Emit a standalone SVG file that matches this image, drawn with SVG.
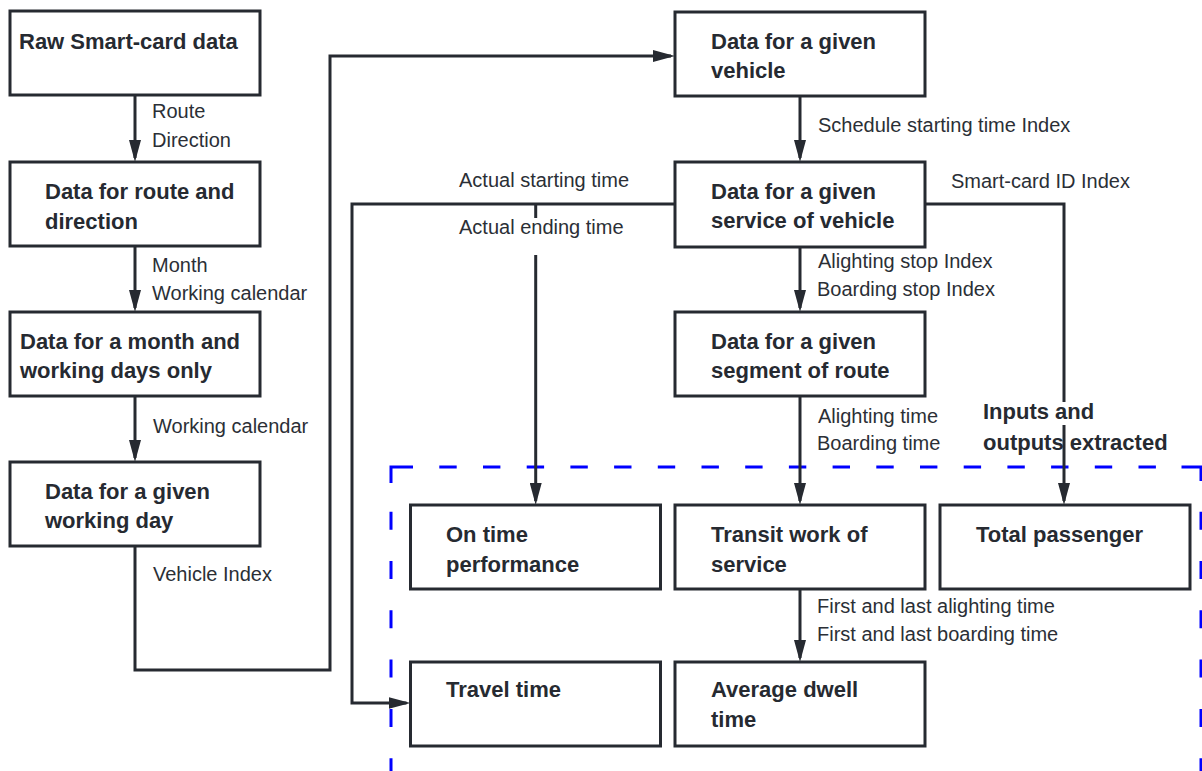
<svg xmlns="http://www.w3.org/2000/svg" width="1202" height="771" viewBox="0 0 1202 771">
<style>
.box{fill:#fff;stroke:#262a31;stroke-width:3}
.bt{font-family:"Liberation Sans",Arial,sans-serif;font-weight:bold;font-size:22px;fill:#262a31}
.lb{font-family:"Liberation Sans",Arial,sans-serif;font-size:20px;fill:#2b2f36}
.cn{fill:none;stroke:#262a31;stroke-width:3}
.ar{marker-end:url(#ah)}
.dash{fill:none;stroke:#0000ff;stroke-width:3}
</style>
<defs>
<marker id="ah" markerUnits="userSpaceOnUse" markerWidth="22" markerHeight="12" refX="18" refY="6" orient="auto">
<path d="M0,0 L22,6 L0,12 z" fill="#262a31"/>
</marker>
</defs>
<rect width="1202" height="771" fill="#fff"/>

<g id="frame">
<path class="dash" d="M391,483 V467 H413"/>
<line class="dash" x1="439.3" y1="467" x2="1181" y2="467" stroke-dasharray="17.4 26.3"/>
<path class="dash" d="M1181.5,467 H1201 V481"/>
<line class="dash" x1="391" y1="511.7" x2="391" y2="771" stroke-dasharray="18 31.3"/>
<line class="dash" x1="1201" y1="511.7" x2="1201" y2="771" stroke-dasharray="18 31.3"/>
<text class="bt" x="983" y="419">Inputs and</text>
<text class="bt" x="983" y="450">outputs extracted</text>
</g>

<g id="connectors">
<path class="cn ar" d="M135,95 V158"/>
<path class="cn ar" d="M135,246 V308"/>
<path class="cn ar" d="M135,396 V458"/>
<path class="cn ar" d="M135,546 V670 H330 V56 H671"/>
<path class="cn ar" d="M800,96 V158"/>
<path class="cn ar" d="M800,247 V308"/>
<path class="cn ar" d="M800,396 V501"/>
<path class="cn ar" d="M800,589 V658"/>
<path class="cn ar" d="M675,204 H352 V703 H406.5"/>
<path class="cn" d="M535.7,204 V218"/>
<path class="cn ar" d="M535.7,255 V501"/>
<path class="cn" d="M925,204 H1064 V402"/>
<path class="cn ar" d="M1064,425 V501"/>
<text class="lb" x="152" y="118">Route</text>
<text class="lb" x="152" y="147">Direction</text>
<text class="lb" x="152" y="272">Month</text>
<text class="lb" x="152" y="300">Working calendar</text>
<text class="lb" x="153" y="433">Working calendar</text>
<text class="lb" x="153" y="581">Vehicle Index</text>
<text class="lb" x="818" y="132">Schedule starting time Index</text>
<text class="lb" x="459" y="187">Actual starting time</text>
<text class="lb" x="459" y="234">Actual ending time</text>
<text class="lb" x="951" y="188">Smart-card ID Index</text>
<text class="lb" x="818" y="268">Alighting stop Index</text>
<text class="lb" x="817" y="296">Boarding stop Index</text>
<text class="lb" x="818" y="423">Alighting time</text>
<text class="lb" x="817" y="450">Boarding time</text>
<text class="lb" x="817" y="613">First and last alighting time</text>
<text class="lb" x="817" y="641">First and last boarding time</text>
</g>

<g id="n-raw"><rect class="box" x="10" y="11" width="250" height="84"/><text class="bt" x="19" y="49">Raw Smart-card data</text></g>
<g id="n-route"><rect class="box" x="10" y="162" width="250" height="84"/><text class="bt" y="199"><tspan x="45">Data for route and</tspan><tspan x="45" y="229">direction</tspan></text></g>
<g id="n-month"><rect class="box" x="10" y="312" width="250" height="84"/><text class="bt" y="349"><tspan x="20">Data for a month and</tspan><tspan x="20" y="378">working days only</tspan></text></g>
<g id="n-day"><rect class="box" x="10" y="462" width="250" height="84"/><text class="bt" y="499"><tspan x="45">Data for a given</tspan><tspan x="45" y="528">working day</tspan></text></g>
<g id="n-vehicle"><rect class="box" x="675" y="12" width="250" height="84"/><text class="bt" y="49"><tspan x="711">Data for a given</tspan><tspan x="711" y="78">vehicle</tspan></text></g>
<g id="n-service"><rect class="box" x="675" y="162" width="250" height="85"/><text class="bt" y="199"><tspan x="711">Data for a given</tspan><tspan x="711" y="228">service of vehicle</tspan></text></g>
<g id="n-segment"><rect class="box" x="675" y="312" width="250" height="84"/><text class="bt" y="349"><tspan x="711">Data for a given</tspan><tspan x="711" y="378">segment of route</tspan></text></g>
<g id="n-ontime"><rect class="box" x="410.5" y="505" width="250" height="84"/><text class="bt" y="542"><tspan x="446">On time</tspan><tspan x="446" y="572">performance</tspan></text></g>
<g id="n-transit"><rect class="box" x="675" y="505" width="250" height="84"/><text class="bt" y="542"><tspan x="711">Transit work of</tspan><tspan x="711" y="572">service</tspan></text></g>
<g id="n-total"><rect class="box" x="940" y="505" width="250" height="84"/><text class="bt" x="976" y="542">Total passenger</text></g>
<g id="n-travel"><rect class="box" x="410.5" y="662" width="250" height="84"/><text class="bt" x="446" y="697">Travel time</text></g>
<g id="n-dwell"><rect class="box" x="675" y="662" width="250" height="84"/><text class="bt" y="697"><tspan x="711">Average dwell</tspan><tspan x="711" y="727">time</tspan></text></g>
</svg>
